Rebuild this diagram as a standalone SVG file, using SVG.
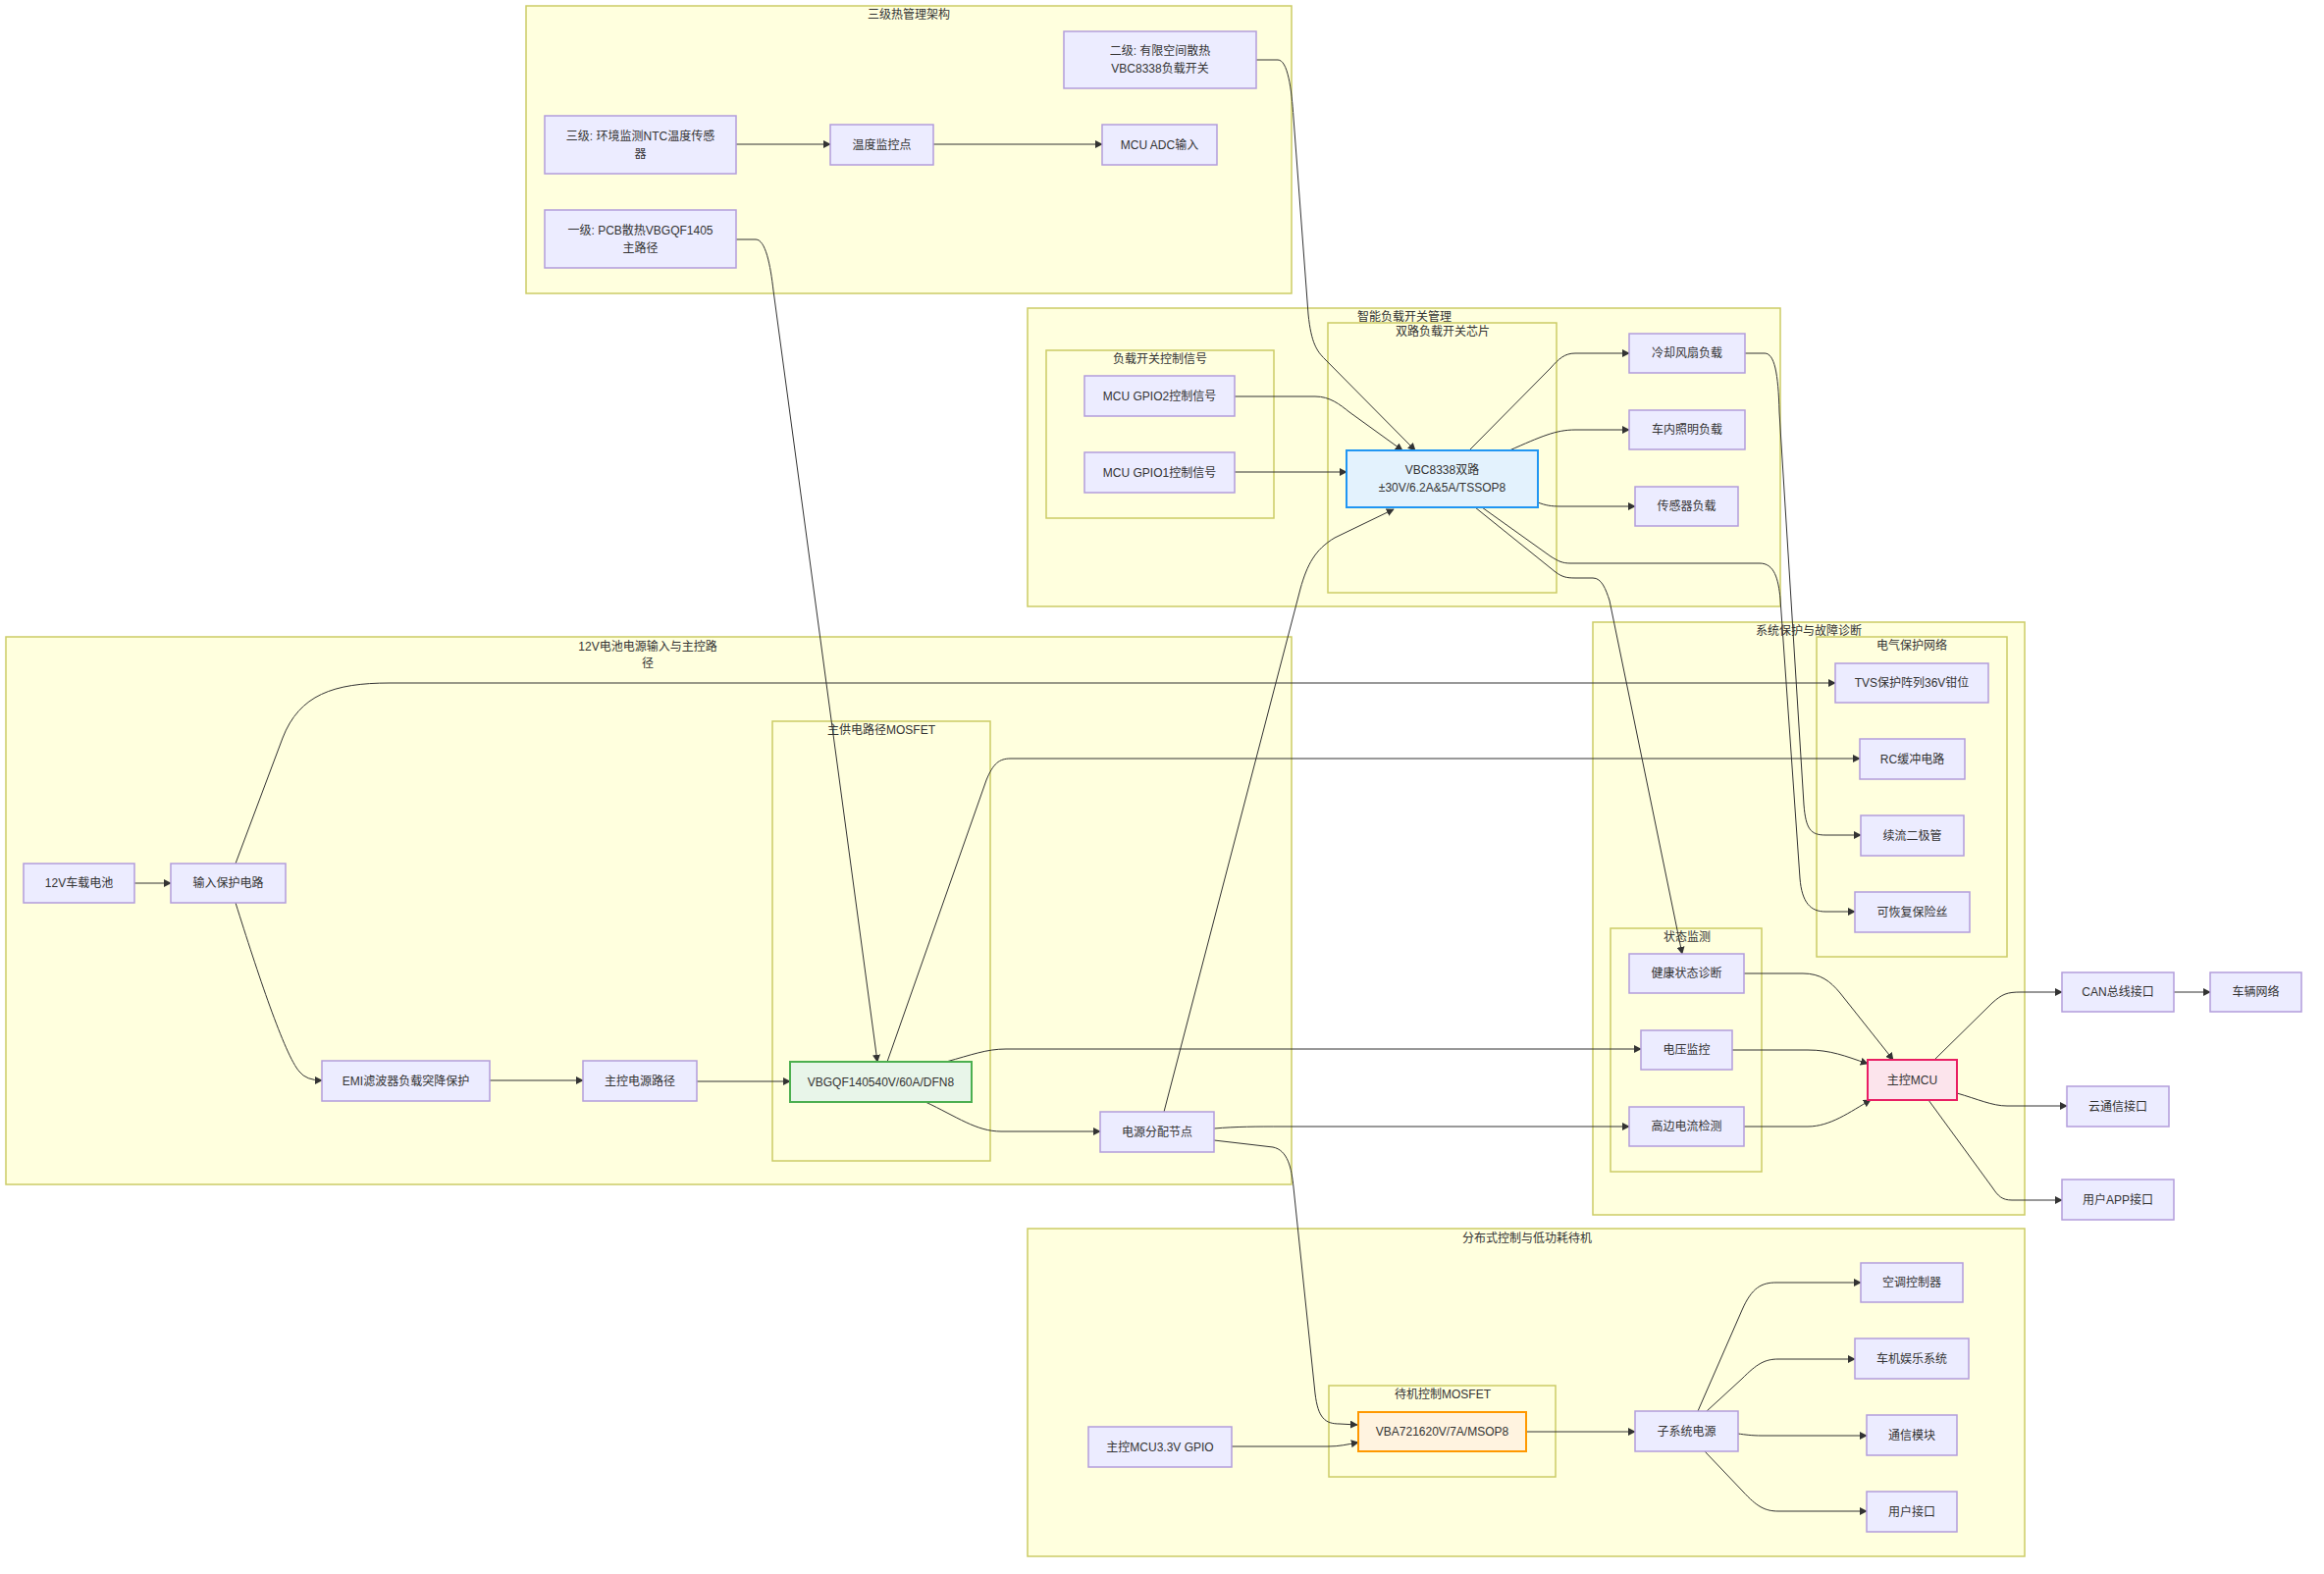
<svg xmlns="http://www.w3.org/2000/svg" width="2368" height="1604" viewBox="0 0 2368 1604">
<defs>
<marker id="arr" viewBox="0 0 10 10" refX="9" refY="5" markerUnits="userSpaceOnUse" markerWidth="8" markerHeight="8" orient="auto">
<path d="M0,0 L10,5 L0,10 z" fill="#333333"/>
</marker>
<style>
text{font-family:"Liberation Sans","Noto Sans CJK SC",sans-serif;font-size:12px;fill:#333333;text-anchor:middle;dominant-baseline:central}
.cl rect{fill:#ffffde;stroke:#cccc66;stroke-width:1.5}
.nd rect{fill:#ececff;stroke:#b39ddb;stroke-width:1.5}
.e path{fill:none;stroke:#333333;stroke-width:1;marker-end:url(#arr)}
.blue rect{fill:#e3f2fd;stroke:#2196f3;stroke-width:2}
.green rect{fill:#e8f5e9;stroke:#4caf50;stroke-width:2}
.orange rect{fill:#fff3e0;stroke:#ff9800;stroke-width:2}
.pink rect{fill:#fce4ec;stroke:#e91e63;stroke-width:2}
</style>
</defs>
<rect width="2368" height="1604" fill="#ffffff"/>
<g id="clusters">
<g class="cl" id="c_thermal"><rect x="536" y="6" width="780" height="293"/><text x="926" y="15">三级热管理架构</text></g>
<g class="cl" id="c_smart"><rect x="1047" y="314" width="767" height="304"/><text x="1431" y="323">智能负载开关管理</text></g>
<g class="cl" id="c_dual"><rect x="1353" y="329" width="233" height="275"/><text x="1470" y="338">双路负载开关芯片</text></g>
<g class="cl" id="c_ctrl"><rect x="1066" y="357" width="232" height="171"/><text x="1182" y="366">负载开关控制信号</text></g>
<g class="cl" id="c_power"><rect x="6" y="649" width="1310" height="558"/><text x="660" y="659">12V电池电源输入与主控路</text><text x="660" y="676">径</text></g>
<g class="cl" id="c_mosfet"><rect x="787" y="735" width="222" height="448"/><text x="898" y="744">主供电路径MOSFET</text></g>
<g class="cl" id="c_prot"><rect x="1623" y="634" width="440" height="604"/><text x="1843" y="643">系统保护与故障诊断</text></g>
<g class="cl" id="c_elec"><rect x="1851" y="649" width="194" height="326"/><text x="1948" y="658">电气保护网络</text></g>
<g class="cl" id="c_mon"><rect x="1641" y="946" width="154" height="248"/><text x="1719" y="955">状态监测</text></g>
<g class="cl" id="c_dist"><rect x="1047" y="1252" width="1016" height="334"/><text x="1556" y="1262">分布式控制与低功耗待机</text></g>
<g class="cl" id="c_standby"><rect x="1354" y="1412" width="231" height="93"/><text x="1470" y="1421">待机控制MOSFET</text></g>
</g>
<g id="connectors" class="e">
<path d="M137,900 L174,900"/>
<path d="M240,920 C262,990 290,1075 305,1092 Q312,1101 328,1101"/>
<path d="M240,880 L288,752 C305,708 340,696 397,696 L1870,696"/>
<path d="M499,1101 L594,1101"/>
<path d="M710,1102 L805,1102"/>
<path d="M943,1123 C975,1138 995,1153 1020,1153 L1121,1153"/>
<path d="M904,1082 L1005,795 C1012,778 1018,773 1030,773 L1895,773"/>
<path d="M964,1082 C990,1075 1005,1069 1025,1069 L1672,1069"/>
<path d="M1186,1133 L1325,600 C1332,575 1340,560 1360,548 L1420,519"/>
<path d="M1237,1150 C1260,1148 1280,1148 1307,1148 L1660,1148"/>
<path d="M1237,1162 L1297,1169 C1312,1172 1316,1190 1318,1210 L1340,1420 C1343,1445 1350,1451 1365,1451 L1383,1452"/>
<path d="M750,244 L770,244 C780,244 785,270 788,296 L894,1082"/>
<path d="M1280,61 L1302,61 C1312,61 1316,90 1318,120 L1333,320 C1336,350 1342,358 1350,366 L1442,459"/>
<path d="M750,147 L846,147"/>
<path d="M951,147 L1123,147"/>
<path d="M1258,404 L1340,404 C1355,404 1365,412 1375,420 L1429,459"/>
<path d="M1258,481 L1372,481"/>
<path d="M1497,459 L1580,375 C1588,366 1594,360 1605,360 L1660,360"/>
<path d="M1538,459 C1570,445 1585,438 1605,438 L1660,438"/>
<path d="M1567,512 C1575,515 1580,516 1590,516 L1666,516"/>
<path d="M1510,517 L1580,567 C1588,572 1592,574 1600,574 L1793,574 C1808,574 1812,590 1814,610 L1834,895 C1836,920 1845,929 1860,929 L1890,929"/>
<path d="M1503,517 L1585,583 C1592,588 1596,589 1605,589 L1623,589 C1632,589 1636,600 1640,612 L1714,972"/>
<path d="M1778,360 L1798,360 C1808,360 1812,380 1813,420 L1838,820 C1840,845 1845,851 1860,851 L1896,851"/>
<path d="M1777,992 L1837,992 C1855,992 1865,1000 1875,1012 L1929,1080"/>
<path d="M1765,1070 L1842,1070 C1865,1070 1880,1076 1903,1084"/>
<path d="M1777,1148 L1842,1148 C1865,1148 1885,1133 1906,1121"/>
<path d="M1971,1080 L2030,1022 C2040,1013 2045,1011 2059,1011 L2101,1011"/>
<path d="M2215,1011 L2252,1011"/>
<path d="M1994,1114 C2015,1120 2030,1127 2045,1127 L2106,1127"/>
<path d="M1965,1121 L2030,1210 C2036,1219 2040,1223 2050,1223 L2101,1223"/>
<path d="M1255,1474 L1353,1474 C1365,1474 1372,1472 1384,1470"/>
<path d="M1555,1459 L1666,1459"/>
<path d="M1730,1438 L1775,1335 C1785,1312 1795,1307 1810,1307 L1896,1307"/>
<path d="M1739,1438 L1775,1405 C1790,1390 1798,1385 1812,1385 L1890,1385"/>
<path d="M1771,1461 C1778,1462 1785,1463 1795,1463 L1902,1463"/>
<path d="M1737,1479 L1776,1520 C1790,1535 1798,1540 1812,1540 L1902,1540"/>
</g>
<g id="nodes">
<g class="nd" id="n_12v"><rect x="24" y="880" width="113" height="40"/><text x="80.5" y="900">12V车载电池</text></g>
<g class="nd" id="n_inprot"><rect x="174" y="880" width="117" height="40"/><text x="232.5" y="900">输入保护电路</text></g>
<g class="nd" id="n_emi"><rect x="328" y="1081" width="171" height="41"/><text x="413.5" y="1101.5">EMI滤波器负载突降保护</text></g>
<g class="nd" id="n_mainpath"><rect x="594" y="1081" width="116" height="41"/><text x="652" y="1101.5">主控电源路径</text></g>
<g class="nd green" id="n_vbgqf"><rect x="805" y="1082" width="185" height="41"/><text x="897.5" y="1102.5">VBGQF140540V/60A/DFN8</text></g>
<g class="nd" id="n_dist"><rect x="1121" y="1133" width="116" height="41"/><text x="1179" y="1153.5">电源分配节点</text></g>
<g class="nd" id="n_l3"><rect x="555" y="118" width="195" height="59"/><text x="652.5" y="138.5">三级: 环境监测NTC温度传感</text><text x="652.5" y="156.5">器</text></g>
<g class="nd" id="n_temp"><rect x="846" y="127" width="105" height="41"/><text x="898.5" y="147.5">温度监控点</text></g>
<g class="nd" id="n_adc"><rect x="1123" y="127" width="117" height="41"/><text x="1181.5" y="147.5">MCU ADC输入</text></g>
<g class="nd" id="n_l1"><rect x="555" y="214" width="195" height="59"/><text x="652.5" y="234.5">一级: PCB散热VBGQF1405</text><text x="652.5" y="252.5">主路径</text></g>
<g class="nd" id="n_l2"><rect x="1084" y="32" width="196" height="58"/><text x="1182" y="52">二级: 有限空间散热</text><text x="1182" y="70">VBC8338负载开关</text></g>
<g class="nd" id="n_gpio2"><rect x="1105" y="383" width="153" height="41"/><text x="1181.5" y="403.5">MCU GPIO2控制信号</text></g>
<g class="nd" id="n_gpio1"><rect x="1105" y="461" width="153" height="41"/><text x="1181.5" y="481.5">MCU GPIO1控制信号</text></g>
<g class="nd blue" id="n_vbc"><rect x="1372" y="459" width="195" height="58"/><text x="1469.5" y="479">VBC8338双路</text><text x="1469.5" y="497">±30V/6.2A&amp;5A/TSSOP8</text></g>
<g class="nd" id="n_fan"><rect x="1660" y="340" width="118" height="40"/><text x="1719" y="360">冷却风扇负载</text></g>
<g class="nd" id="n_light"><rect x="1660" y="418" width="118" height="40"/><text x="1719" y="438">车内照明负载</text></g>
<g class="nd" id="n_sensor"><rect x="1666" y="496" width="105" height="40"/><text x="1718.5" y="516">传感器负载</text></g>
<g class="nd" id="n_tvs"><rect x="1870" y="676" width="156" height="40"/><text x="1948" y="696">TVS保护阵列36V钳位</text></g>
<g class="nd" id="n_rc"><rect x="1895" y="753" width="107" height="41"/><text x="1948.5" y="773.5">RC缓冲电路</text></g>
<g class="nd" id="n_diode"><rect x="1896" y="831" width="105" height="41"/><text x="1948.5" y="851.5">续流二极管</text></g>
<g class="nd" id="n_fuse"><rect x="1890" y="909" width="117" height="41"/><text x="1948.5" y="929.5">可恢复保险丝</text></g>
<g class="nd" id="n_health"><rect x="1660" y="972" width="117" height="40"/><text x="1718.5" y="992">健康状态诊断</text></g>
<g class="nd" id="n_vmon"><rect x="1672" y="1050" width="93" height="40"/><text x="1718.5" y="1070">电压监控</text></g>
<g class="nd" id="n_isense"><rect x="1660" y="1128" width="117" height="40"/><text x="1718.5" y="1148">高边电流检测</text></g>
<g class="nd pink" id="n_mcu"><rect x="1903" y="1080" width="91" height="41"/><text x="1948.5" y="1100.5">主控MCU</text></g>
<g class="nd" id="n_can"><rect x="2101" y="991" width="114" height="40"/><text x="2158" y="1011">CAN总线接口</text></g>
<g class="nd" id="n_vnet"><rect x="2252" y="991" width="93" height="40"/><text x="2298.5" y="1011">车辆网络</text></g>
<g class="nd" id="n_cloud"><rect x="2106" y="1107" width="104" height="41"/><text x="2158" y="1127.5">云通信接口</text></g>
<g class="nd" id="n_app"><rect x="2101" y="1202" width="114" height="41"/><text x="2158" y="1222.5">用户APP接口</text></g>
<g class="nd" id="n_gpio33"><rect x="1109" y="1454" width="146" height="41"/><text x="1182" y="1474.5">主控MCU3.3V GPIO</text></g>
<g class="nd orange" id="n_vba"><rect x="1384" y="1439" width="171" height="40"/><text x="1469.5" y="1459">VBA721620V/7A/MSOP8</text></g>
<g class="nd" id="n_subpwr"><rect x="1666" y="1438" width="105" height="41"/><text x="1718.5" y="1458.5">子系统电源</text></g>
<g class="nd" id="n_ac"><rect x="1896" y="1287" width="104" height="40"/><text x="1948" y="1307">空调控制器</text></g>
<g class="nd" id="n_ivi"><rect x="1890" y="1364" width="116" height="41"/><text x="1948" y="1384.5">车机娱乐系统</text></g>
<g class="nd" id="n_comm"><rect x="1902" y="1442" width="92" height="41"/><text x="1948" y="1462.5">通信模块</text></g>
<g class="nd" id="n_ui"><rect x="1902" y="1520" width="92" height="41"/><text x="1948" y="1540.5">用户接口</text></g>
</g>
</svg>
